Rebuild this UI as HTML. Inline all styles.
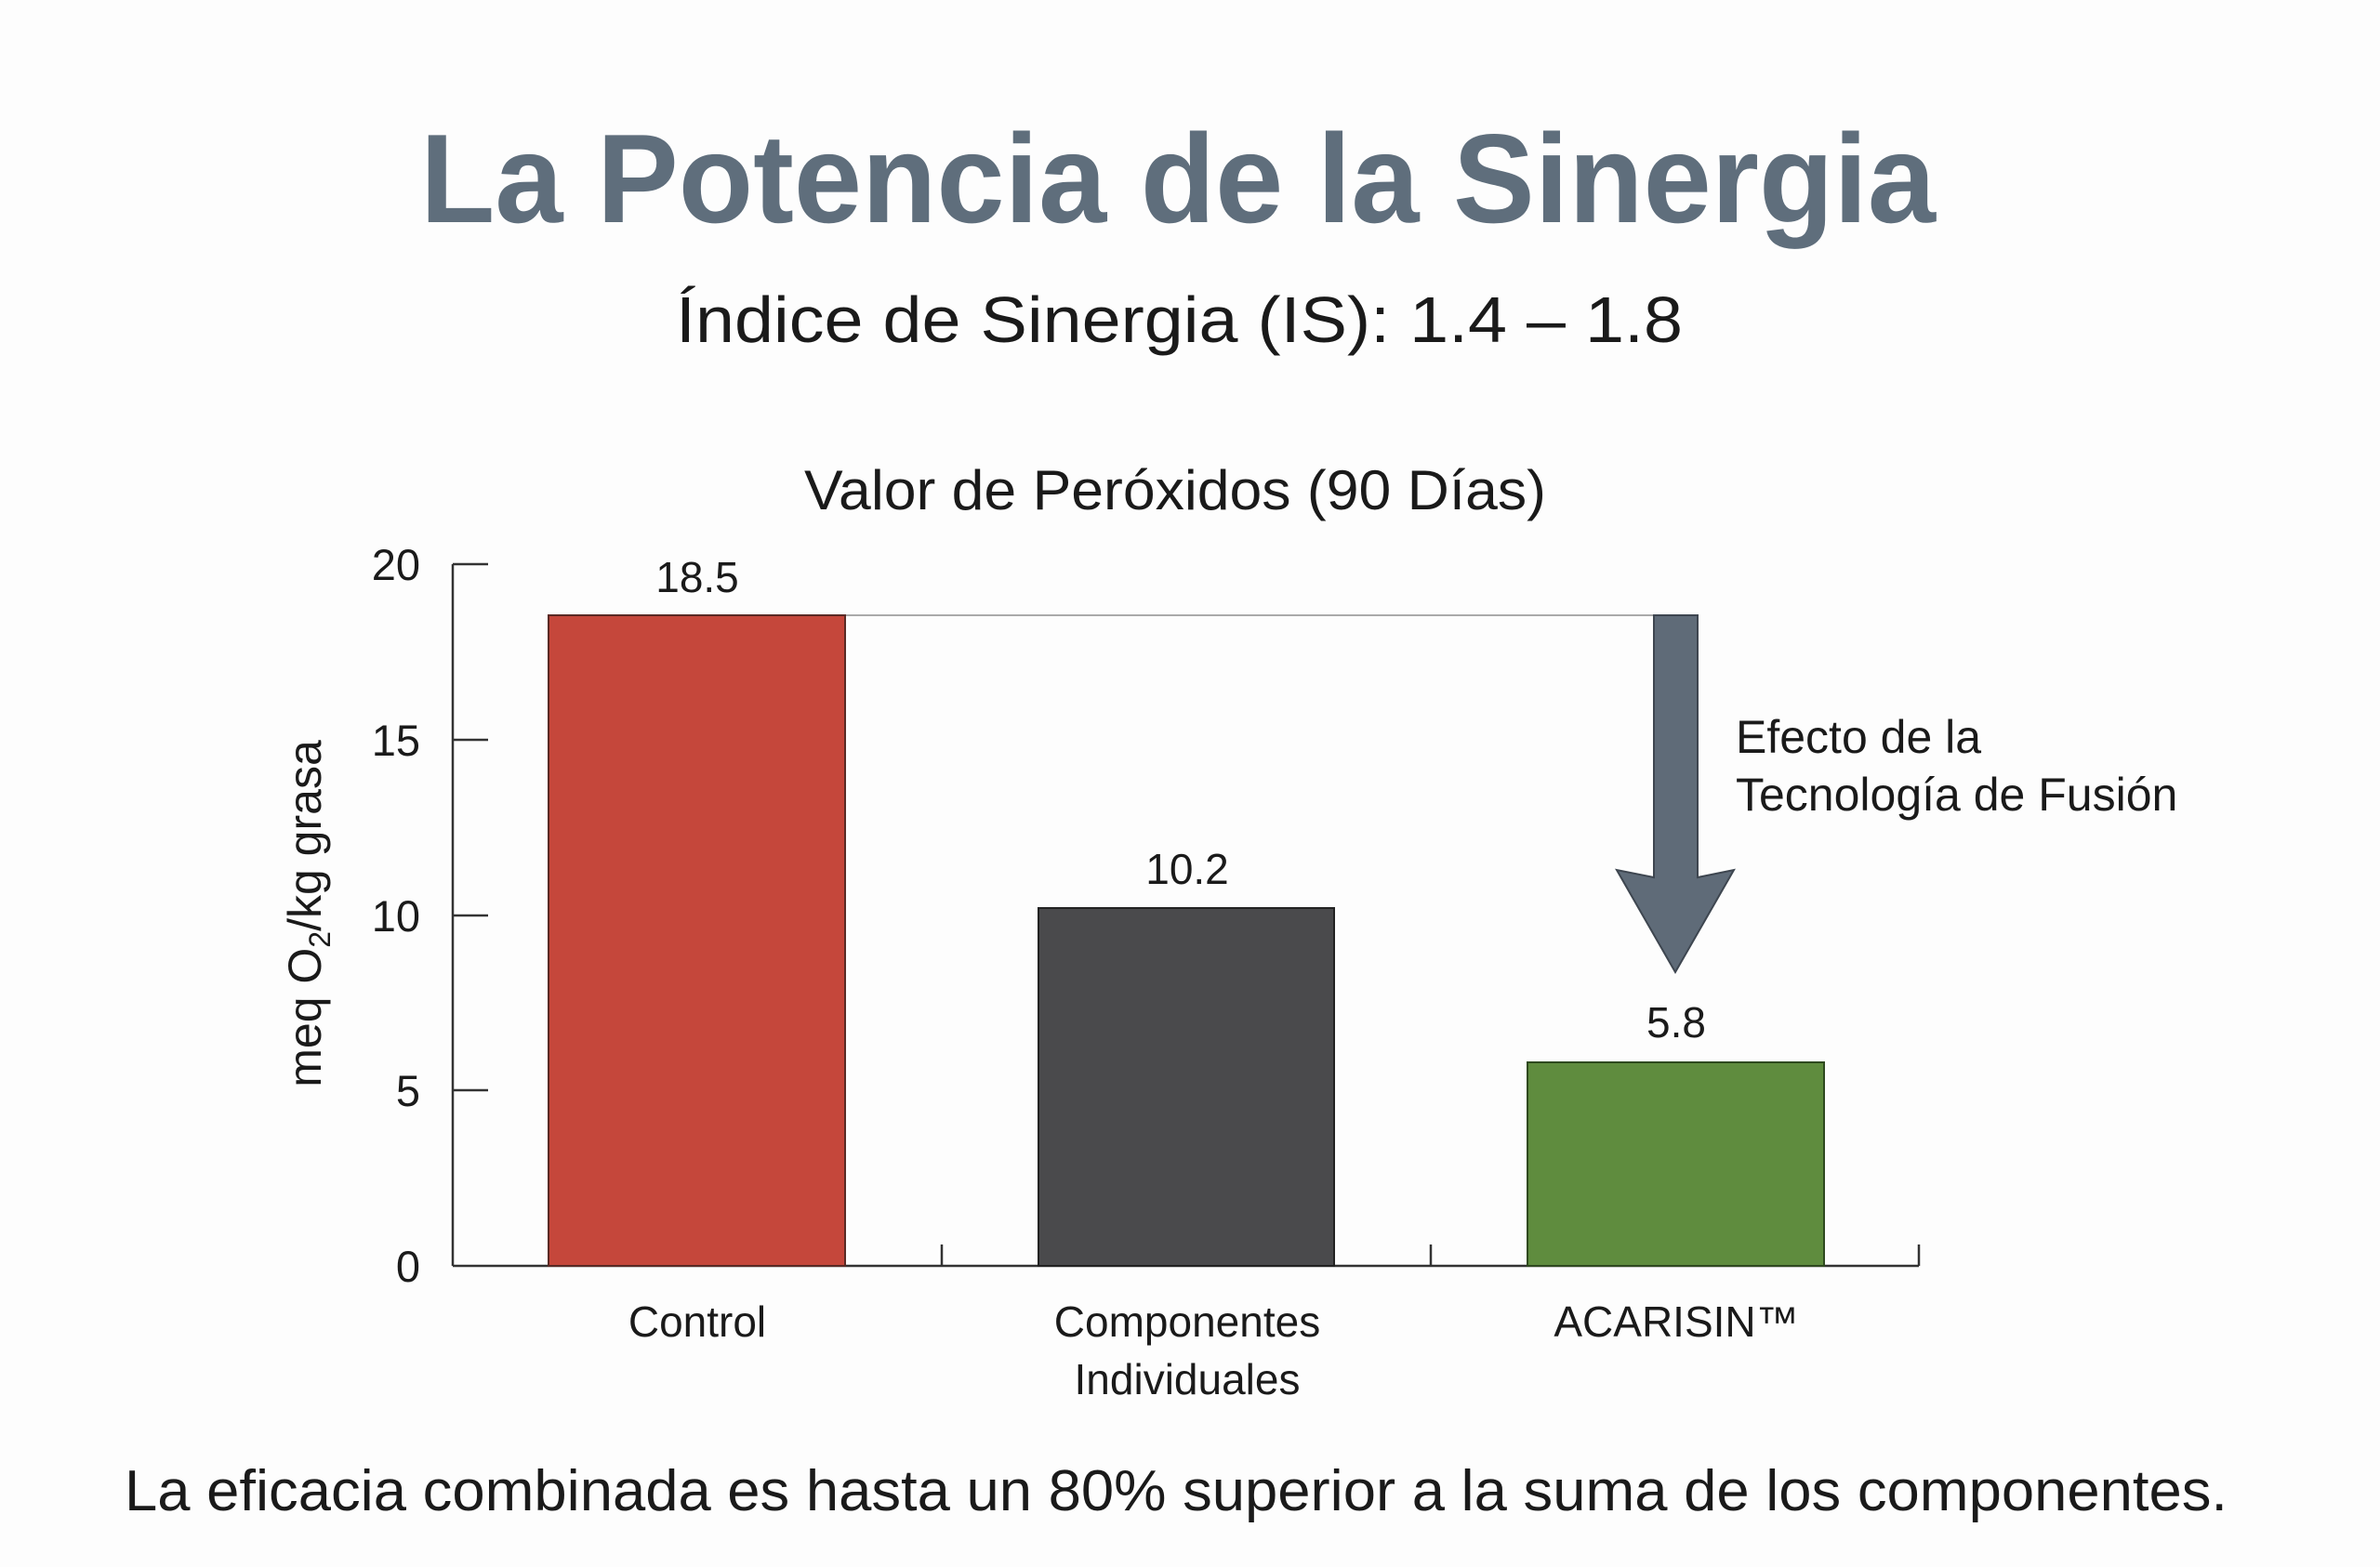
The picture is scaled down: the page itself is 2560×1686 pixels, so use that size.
<!DOCTYPE html>
<html><head><meta charset="utf-8"><style>
html,body{margin:0;padding:0;background:#fff;}
svg{display:block;}
text{font-family:"Liberation Sans",sans-serif;fill:#1a1a1a;}
</style></head><body>
<svg width="2560" height="1686" viewBox="0 0 2560 1686" xmlns="http://www.w3.org/2000/svg">
<rect width="2560" height="1686" fill="#fdfdfd"/>
<text x="452" y="239" font-size="136" font-weight="bold" style="fill:#5f6e7c" textLength="1630" lengthAdjust="spacingAndGlyphs">La Potencia de la Sinergia</text>
<text x="727" y="368" font-size="70" textLength="1083" lengthAdjust="spacingAndGlyphs">Índice de Sinergia (IS): 1.4 – 1.8</text>
<text x="865" y="548" font-size="60" textLength="798" lengthAdjust="spacingAndGlyphs">Valor de Peróxidos (90 Días)</text>
<g stroke="#333" stroke-width="2.5" fill="none">
<line x1="487" y1="607" x2="487" y2="1362"/>
<line x1="487" y1="1362" x2="2064" y2="1362"/>
<line x1="487" y1="607" x2="525" y2="607"/>
<line x1="487" y1="796" x2="525" y2="796"/>
<line x1="487" y1="985" x2="525" y2="985"/>
<line x1="487" y1="1173" x2="525" y2="1173"/>
<line x1="1013" y1="1362" x2="1013" y2="1339"/>
<line x1="1539" y1="1362" x2="1539" y2="1339"/>
<line x1="2064" y1="1362" x2="2064" y2="1339"/>
</g>
<g font-size="47" text-anchor="end">
<text x="452" y="624">20</text>
<text x="452" y="813">15</text>
<text x="452" y="1002">10</text>
<text x="452" y="1190">5</text>
<text x="452" y="1379">0</text>
</g>
<text transform="translate(345,983) rotate(-90)" font-size="50" text-anchor="middle">meq O<tspan font-size="32" dy="10">2</tspan><tspan dy="-10">/kg grasa</tspan></text>
<line x1="909" y1="662" x2="1780" y2="662" stroke="#aaa" stroke-width="2"/>
<rect x="590" y="662" width="319" height="700" fill="#c5473b" stroke="#5a2a25" stroke-width="2"/>
<rect x="1117" y="977" width="318" height="385" fill="#4a4a4c" stroke="#222" stroke-width="2"/>
<rect x="1643" y="1143" width="319" height="219" fill="#5f8c3e" stroke="#2f4a20" stroke-width="2"/>
<g font-size="46" text-anchor="middle">
<text x="750" y="637">18.5</text>
<text x="1277" y="951">10.2</text>
<text x="1803" y="1116">5.8</text>
</g>
<polygon points="1779,662 1826,662 1826,944 1865,936 1802,1046 1739,936 1779,944" fill="#5f6b78" stroke="#3e4650" stroke-width="2"/>
<g font-size="50">
<text x="1867" y="810">Efecto de la</text>
<text x="1867" y="872">Tecnología de Fusión</text>
</g>
<g font-size="46" text-anchor="middle">
<text x="750" y="1438">Control</text>
<text x="1277" y="1438">Componentes</text>
<text x="1277" y="1500">Individuales</text>
<text x="1803" y="1438">ACARISIN™</text>
</g>
<text x="134" y="1625" font-size="62" textLength="2262" lengthAdjust="spacingAndGlyphs">La eficacia combinada es hasta un 80% superior a la suma de los componentes.</text>
</svg>
</body></html>
